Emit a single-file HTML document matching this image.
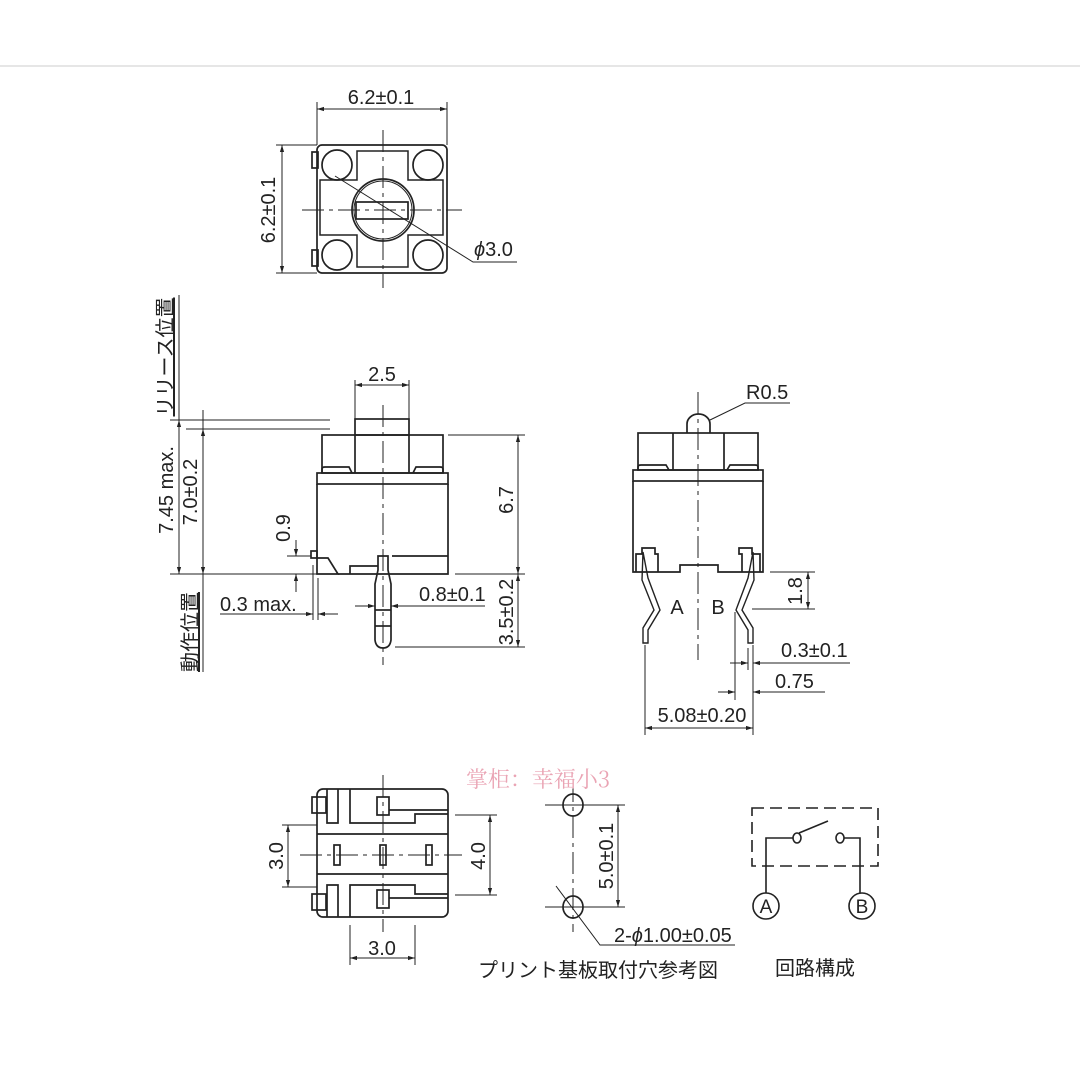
<!DOCTYPE html>
<html><head><meta charset="utf-8"><style>
html,body{margin:0;padding:0;background:#fff}
svg{display:block}
text{font-family:"Liberation Sans","Noto Sans CJK JP",sans-serif;fill:#222}
</style></head><body>
<svg width="1080" height="1080" viewBox="0 0 1080 1080" xmlns="http://www.w3.org/2000/svg">
<defs>
<marker id="a" viewBox="0 0 10 10" refX="10" refY="5" markerWidth="7" markerHeight="7" orient="auto-start-reverse"><path d="M0,2 L10,5 L0,8" fill="#222"/></marker>
</defs>
<line x1="0" y1="66" x2="1080" y2="66" stroke="#ddd" stroke-width="1.5"/>
<g stroke="#222" fill="none" stroke-width="1.7">
<rect x="317" y="145" width="130" height="128" rx="5"/>
<rect x="312" y="152" width="6" height="16"/><rect x="312" y="250" width="6" height="16"/>
<circle cx="337" cy="165" r="15"/><circle cx="428" cy="165" r="15"/>
<circle cx="337" cy="255" r="15"/><circle cx="428" cy="255" r="15"/>
<path d="M357,151 H408 V180 H443 V235 H408 V267 H357 V235 H320 V180 H357 Z" stroke-width="1.5"/>
<circle cx="383" cy="210" r="31"/><circle cx="383" cy="210" r="29" stroke-width="1"/>
<rect x="356" y="202" width="52" height="17"/>
</g>
<g stroke="#222" fill="none" stroke-width="1">
<line x1="383" y1="130" x2="383" y2="288" stroke-dasharray="22,5,4,5"/>
<line x1="302" y1="210" x2="462" y2="210" stroke-dasharray="22,5,4,5"/>
<line x1="317" y1="102" x2="317" y2="145"/><line x1="447" y1="102" x2="447" y2="145"/>
<line x1="317" y1="109" x2="447" y2="109" marker-start="url(#a)" marker-end="url(#a)"/>
<line x1="276" y1="145" x2="317" y2="145"/><line x1="276" y1="273" x2="317" y2="273"/>
<line x1="282" y1="145" x2="282" y2="273" marker-start="url(#a)" marker-end="url(#a)"/>
<polyline points="335,176 473,262 517,262"/>
</g>
<text x="381" y="104" font-size="20" text-anchor="middle">6.2±0.1</text>
<text transform="translate(275,210) rotate(-90)" font-size="20" text-anchor="middle">6.2±0.1</text>
<text x="474" y="256" font-size="20"><tspan font-style="italic">ϕ</tspan>3.0</text>

<g stroke="#222" fill="none" stroke-width="1.7">
<rect x="355" y="419" width="54" height="16"/>
<rect x="322" y="435" width="121" height="38"/>
<line x1="355" y1="435" x2="355" y2="473"/><line x1="409" y1="435" x2="409" y2="473"/>
<path d="M322,473 V469 Q322,467 325,467 H349 L352,473"/><path d="M443,473 V469 Q443,467 440,467 H416 L413,473"/>
<rect x="317" y="473" width="131" height="11"/>
<path d="M317,484 V574 H338 L328,558 H317"/>
<rect x="311" y="551" width="6" height="7"/>
<path d="M338,574 H448 V484"/>
<line x1="392" y1="556" x2="448" y2="556"/>
<path d="M350,574 V566 H378"/>
<path d="M378,556 V570 L375,584 V640 Q376,648 383,648 Q390,648 391,640 V584 L388,570 V556 Z"/>
<line x1="375" y1="610" x2="391" y2="610"/>
<line x1="375" y1="626" x2="391" y2="626"/>
</g>
<g stroke="#222" fill="none" stroke-width="1">
<line x1="383" y1="405" x2="383" y2="665" stroke-dasharray="22,5,4,5"/>
<line x1="355" y1="380" x2="355" y2="419"/><line x1="409" y1="380" x2="409" y2="419"/>
<line x1="355" y1="385" x2="409" y2="385" marker-start="url(#a)" marker-end="url(#a)"/>
<line x1="448" y1="435" x2="525" y2="435"/><line x1="455" y1="574" x2="525" y2="574"/>
<line x1="395" y1="647" x2="525" y2="647"/>
<line x1="518" y1="435" x2="518" y2="574" marker-start="url(#a)" marker-end="url(#a)"/>
<line x1="518" y1="574" x2="518" y2="647" marker-start="url(#a)" marker-end="url(#a)"/>
<line x1="170" y1="420" x2="330" y2="420"/><line x1="186" y1="429" x2="330" y2="429"/>
<line x1="170" y1="574" x2="318" y2="574"/>
<line x1="179" y1="295" x2="179" y2="420"/>
<line x1="179" y1="420" x2="179" y2="574" marker-start="url(#a)" marker-end="url(#a)"/>
<line x1="203" y1="410" x2="203" y2="429"/>
<line x1="203" y1="429" x2="203" y2="574" marker-start="url(#a)" marker-end="url(#a)"/>
<line x1="203" y1="574" x2="203" y2="672"/>
<line x1="287" y1="556" x2="311" y2="556"/>
<line x1="296" y1="540" x2="296" y2="556" marker-end="url(#a)"/>
<line x1="296" y1="574" x2="296" y2="592" marker-start="url(#a)"/>
<line x1="313" y1="565" x2="313" y2="620"/><line x1="318" y1="578" x2="318" y2="620"/>
<line x1="220" y1="614" x2="313" y2="614" marker-end="url(#a)"/>
<line x1="318" y1="614" x2="338" y2="614" marker-start="url(#a)"/>
<line x1="355" y1="606" x2="375" y2="606" marker-end="url(#a)"/>
<line x1="391" y1="606" x2="485" y2="606" marker-start="url(#a)"/>
</g>
<text x="382" y="381" font-size="20" text-anchor="middle">2.5</text>
<text transform="translate(513,500) rotate(-90)" font-size="20" text-anchor="middle">6.7</text>
<text transform="translate(513,612) rotate(-90)" font-size="20" text-anchor="middle">3.5±0.2</text>
<text transform="translate(173,490) rotate(-90)" font-size="20" text-anchor="middle">7.45 max.</text>
<text transform="translate(197,492) rotate(-90)" font-size="20" text-anchor="middle">7.0±0.2</text>
<text transform="translate(290,528) rotate(-90)" font-size="20" text-anchor="middle">0.9</text>
<text x="220" y="611" font-size="20">0.3  max.</text>
<text x="419" y="601" font-size="20">0.8±0.1</text>
<text transform="translate(172,357) rotate(-90)" font-size="20" text-anchor="middle" text-decoration="underline">リリース位置</text>
<text transform="translate(197,632) rotate(-90)" font-size="20" text-anchor="middle" text-decoration="underline">動作位置</text>

<g stroke="#222" fill="none" stroke-width="1.7">
<path d="M687,433 V424 A11.5,10 0 0 1 710,424 V433"/>
<rect x="638" y="433" width="120" height="37"/>
<line x1="673" y1="433" x2="673" y2="470"/><line x1="724" y1="433" x2="724" y2="470"/>
<path d="M638,470 V467 Q638,465 641,465 H666 L669,470"/><path d="M758,470 V467 Q758,465 755,465 H730 L727,470"/>
<rect x="633" y="470" width="130" height="11"/>
<path d="M633,481 V572 H680 V565 H718 V572 H763 V481"/>
<path d="M636,572 V554 H642 V548 H655 V554 H658 V572"/>
<path d="M742,572 V554 H739 V548 H752 V554 H760 V572"/>
<path d="M643,552 L648,578 L660,610 L648,630 V643 H643 V628 L654,610 L642,580 Z" stroke-width="1.4"/>
<path d="M753,552 L748,578 L736,610 L748,630 V643 H753 V628 L742,610 L754,580 Z" stroke-width="1.4"/>
</g>
<g stroke="#222" fill="none" stroke-width="1">
<line x1="698" y1="392" x2="698" y2="660" stroke-dasharray="22,5,4,5"/>
<polyline points="710,420 745,403 790,403"/>
<line x1="770" y1="572" x2="815" y2="572"/><line x1="752" y1="609" x2="815" y2="609"/>
<line x1="808" y1="572" x2="808" y2="609" marker-start="url(#a)" marker-end="url(#a)"/>
<line x1="645" y1="645" x2="645" y2="735"/><line x1="753" y1="645" x2="753" y2="735"/>
<line x1="735" y1="612" x2="735" y2="700"/>
<line x1="748" y1="648" x2="748" y2="670"/>
<line x1="730" y1="663" x2="748" y2="663" marker-end="url(#a)"/>
<line x1="753" y1="663" x2="850" y2="663" marker-start="url(#a)"/>
<line x1="718" y1="692" x2="735" y2="692" marker-end="url(#a)"/>
<line x1="753" y1="692" x2="825" y2="692" marker-start="url(#a)"/>
<line x1="645" y1="728" x2="753" y2="728" marker-start="url(#a)" marker-end="url(#a)"/>
</g>
<text x="746" y="399" font-size="20">R0.5</text>
<text x="677" y="614" font-size="20" text-anchor="middle">A</text>
<text x="718" y="614" font-size="20" text-anchor="middle">B</text>
<text transform="translate(802,591) rotate(-90)" font-size="20" text-anchor="middle">1.8</text>
<text x="781" y="657" font-size="20">0.3±0.1</text>
<text x="775" y="688" font-size="20">0.75</text>
<text x="702" y="722" font-size="20" text-anchor="middle">5.08±0.20</text>

<g stroke="#222" fill="none" stroke-width="1.7">
<rect x="317" y="789" width="131" height="128" rx="6"/>
<rect x="312" y="797" width="14" height="16"/><rect x="312" y="894" width="14" height="16"/>
<line x1="317" y1="834" x2="448" y2="834"/><line x1="317" y1="874" x2="448" y2="874"/>
<path d="M327,789 V823 H338 V789"/><path d="M350,789 V823 H415 V814 H448"/><path d="M389,810 H448"/>
<path d="M327,917 V885 H338 V917"/><path d="M350,917 V885 H415 V894 H448"/><path d="M389,898 H448"/>
<rect x="377" y="797" width="12" height="18"/><rect x="377" y="890" width="12" height="18"/>
<rect x="334" y="845" width="6" height="20"/><rect x="380" y="845" width="6" height="20"/><rect x="426" y="845" width="6" height="20"/>
</g>
<g stroke="#222" fill="none" stroke-width="1">
<line x1="383" y1="775" x2="383" y2="932" stroke-dasharray="22,5,4,5"/>
<line x1="300" y1="855" x2="462" y2="855" stroke-dasharray="22,5,4,5"/>
<line x1="282" y1="825" x2="317" y2="825"/><line x1="282" y1="887" x2="317" y2="887"/>
<line x1="288" y1="825" x2="288" y2="887" marker-start="url(#a)" marker-end="url(#a)"/>
<line x1="455" y1="815" x2="497" y2="815"/><line x1="455" y1="895" x2="497" y2="895"/>
<line x1="490" y1="815" x2="490" y2="895" marker-start="url(#a)" marker-end="url(#a)"/>
<line x1="350" y1="925" x2="350" y2="965"/><line x1="415" y1="925" x2="415" y2="965"/>
<line x1="350" y1="958" x2="415" y2="958" marker-start="url(#a)" marker-end="url(#a)"/>
<line x1="573" y1="780" x2="573" y2="932" stroke-dasharray="22,5,4,5"/>
<line x1="545" y1="805" x2="625" y2="805"/><line x1="545" y1="907" x2="625" y2="907"/>
<line x1="618" y1="805" x2="618" y2="907" marker-start="url(#a)" marker-end="url(#a)"/>
<polyline points="556,886 600,945 735,945"/>
</g>
<g stroke="#222" fill="none" stroke-width="1.7">
<ellipse cx="573" cy="805" rx="10" ry="11"/><ellipse cx="573" cy="907" rx="10" ry="11"/>
</g>
<text x="382" y="955" font-size="20" text-anchor="middle">3.0</text>
<text transform="translate(283,856) rotate(-90)" font-size="20" text-anchor="middle">3.0</text>
<text transform="translate(485,856) rotate(-90)" font-size="20" text-anchor="middle">4.0</text>
<text transform="translate(613,856) rotate(-90)" font-size="20" text-anchor="middle">5.0±0.1</text>
<text x="614" y="942" font-size="20">2-<tspan font-style="italic">ϕ</tspan>1.00±0.05</text>
<text x="598" y="977" font-size="20" text-anchor="middle">プリント基板取付穴参考図</text>
<text x="815" y="975" font-size="20" text-anchor="middle">回路構成</text>

<g stroke="#222" fill="none" stroke-width="1.6">
<rect x="752" y="808" width="126" height="58" stroke-dasharray="12,6"/>
<polyline points="766,893 766,838 793,838"/>
<polyline points="844,838 860,838 860,893"/>
<ellipse cx="797" cy="838" rx="4" ry="5"/><ellipse cx="840" cy="838" rx="4" ry="5"/>
<line x1="799" y1="833" x2="828" y2="821"/>
<circle cx="766" cy="906" r="13"/><circle cx="862" cy="906" r="13"/>
</g>
<text x="766" y="913" font-size="19" text-anchor="middle">A</text>
<text x="862" y="913" font-size="19" text-anchor="middle">B</text>

<text x="538" y="787" font-size="22" text-anchor="middle" style="fill:#eaa4b4;font-family:'Noto Serif CJK SC',serif">掌柜：幸福小3</text>
</svg>
</body></html>
